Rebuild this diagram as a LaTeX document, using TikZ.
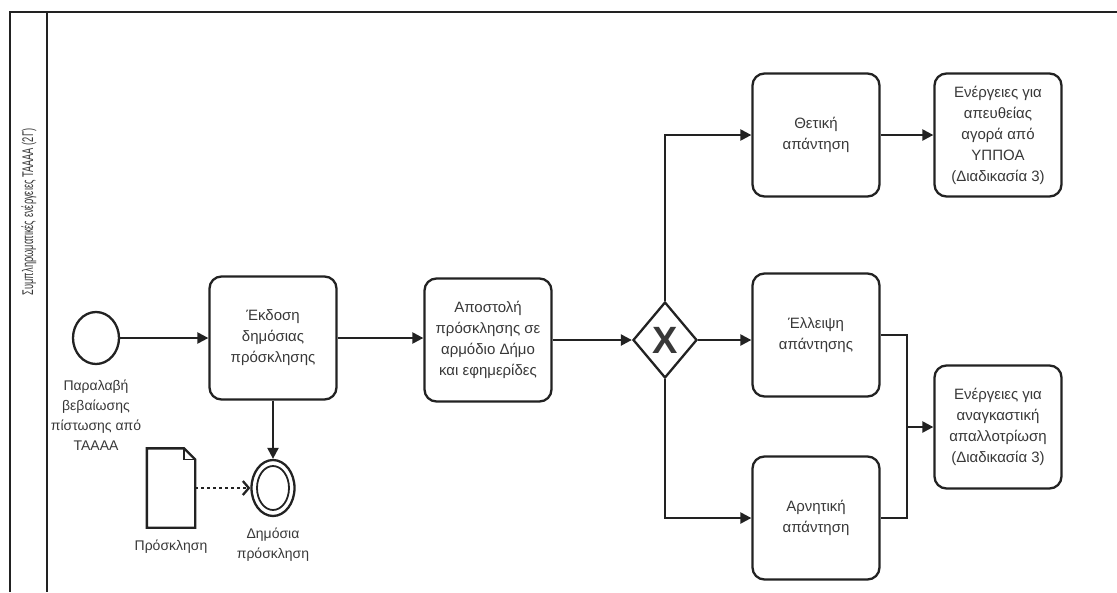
\documentclass[tikz,border=0pt]{standalone}
\usepackage{fontspec}
\setmainfont{Liberation Sans}
\usetikzlibrary{arrows.meta,shapes.geometric,positioning}
\definecolor{ink}{HTML}{222222}

\begin{document}
\begin{tikzpicture}[x=1pt, y=-1pt, line width=2.3pt, draw=ink, text=ink!90,
  >={Triangle[length=11pt,width=11pt]},
  task/.style={draw, rounded corners=12pt, minimum width=127pt, minimum height=123pt,
    align=center, inner sep=2pt, font=\fontsize{15}{21}\selectfont},
  event/.style={draw, ellipse, minimum width=46pt, minimum height=52pt, inner sep=0pt},
  lbl/.style={align=center, inner sep=1pt, font=\fontsize{14}{20}\selectfont},
  flow/.style={->}]

  \useasboundingbox (0,0) rectangle (1117,592);

  % --- lane ---
  \draw (10,592) |- (1117,12);
  \draw (47,12) -- (47,592);
  \node[rotate=90, xscale=0.6, font=\fontsize{15.5}{17}\selectfont] (lane) at (29,212)
    {Συμπληρωματικές ενέργειες ΤΑΑΑΑ (2Γ)};

  % --- events and tasks ---
  \node[event] (start) at (96,338) {};
  \node[lbl, below=13pt of start] (startlbl) {Παραλαβή\\βεβαίωσης\\πίστωσης από\\ΤΑΑΑΑ};

  \node[task] (issue) at (273,338) {Έκδοση\\δημόσιας\\πρόσκλησης};
  \node[task] (send) at (488,340) {Αποστολή\\πρόσκλησης σε\\αρμόδιο Δήμο\\και εφημερίδες};
  \node[draw, diamond, minimum width=64pt, minimum height=76pt, inner sep=0pt,
    font=\fontsize{38}{38}\selectfont\bfseries] (gw) at (665,340) {X};

  \node[task] (pos) at (816,135) {Θετική\\απάντηση};
  \node[task] (direct) at (998,135) {Ενέργειες για\\απευθείας\\αγορά από\\ΥΠΠΟΑ\\(Διαδικασία 3)};
  \node[task] (none) at (816,335) {Έλλειψη\\απάντησης};
  \node[task] (neg) at (816,518) {Αρνητική\\απάντηση};
  \node[task] (expr) at (998,427) {Ενέργειες για\\αναγκαστική\\απαλλοτρίωση\\(Διαδικασία 3)};

  % --- public call event and document ---
  \node[draw, ellipse, minimum width=43pt, minimum height=56pt, inner sep=0pt] (pub) at (273,488) {};
  \draw[line width=1.8pt] (pub.center) ellipse [x radius=16, y radius=22];
  \node[lbl, below=9pt of pub] (publbl) {Δημόσια\\πρόσκληση};

  \node[minimum width=46pt, minimum height=77pt, inner sep=0pt] (doc) at (171,488) {};
  \draw[line join=miter] (doc.south west) -- (doc.north west) -- ([xshift=-11pt]doc.north east)
    -- ([yshift=-11pt]doc.north east) -- (doc.south east) -- cycle;
  \draw[line width=1.6pt] ([xshift=-11pt]doc.north east) |- ([yshift=-11pt]doc.north east);
  \node[lbl, below=10pt of doc] (doclbl) {Πρόσκληση};

  % --- flows ---
  \draw[flow] (start) -- (issue);
  \draw[flow] (issue.east) -- (issue.east -| send.west);
  \draw[flow] (send.east) -- (send.east -| gw.west);
  \draw[flow] (gw.north) |- (pos.west);
  \draw[flow] (gw.east) -- (gw.east -| none.west);
  \draw[flow] (gw.south) |- (neg.west);
  \draw[flow] (pos) -- (direct);
  \coordinate (merge) at (907,427);
  \draw (none.east) -| (merge) |- (neg.east);
  \draw[flow] (merge) -- (expr);
  \draw[flow] (issue) -- (pub);
  \draw[dash pattern=on 3pt off 3pt, -{Straight Barb[length=6pt,width=14pt]}] (doc) -- (pub);

\end{tikzpicture}
\end{document}
